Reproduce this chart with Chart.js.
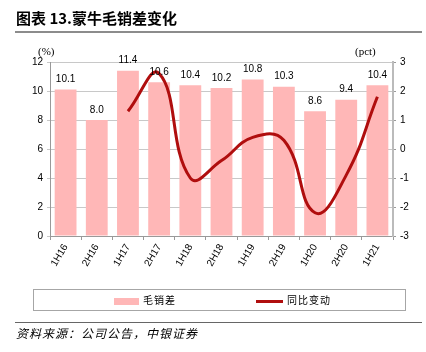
<!DOCTYPE html>
<html>
<head>
<meta charset="utf-8">
<script src="https://cdn.jsdelivr.net/npm/chart.js@4"></script>
<style>
  body { margin: 0; background: #fff; }
  #wrap { position: relative; width: 426px; height: 352px; overflow: hidden; font-family: "Liberation Sans", Arial, sans-serif; }
  #title { position: absolute; left: 16px; top: 7px; font-size: 15px; font-weight: bold; font-family: "Noto Sans CJK SC", sans-serif; color: #000; }
  #rule1 { position: absolute; left: 15px; top: 31px; width: 407px; height: 2px; background: #8c8c8c; }
  #rule2 { position: absolute; left: 15px; top: 322px; width: 407px; height: 1px; background: #666; }
  #source { position: absolute; left: 16px; top: 324px; font-size: 12px; letter-spacing: 1px; font-style: italic; font-family: "Noto Sans CJK SC", sans-serif; color: #000; }
  #legend { position: absolute; left: 33px; top: 289px; width: 373px; height: 22px; border: 1px solid #a6a6a6; box-sizing: border-box; font-size: 10px; font-family: "Noto Sans CJK SC", sans-serif; }
  .lg { position: absolute; top: 3px; line-height: 14px; letter-spacing: 1px; }
  .sw { display: inline-block; vertical-align: middle; margin-right: 4px; }
  .unit { position: absolute; top: 45px; font-size: 11px; font-family: "Liberation Serif", serif; color: #000; }
  canvas { position: absolute; left: 0; top: 0; }
</style>
</head>
<body>
<div id="wrap">
  <canvas id="c" width="426" height="352"></canvas>
  <div id="title">图表 13.蒙牛毛销差变化</div>
  <div id="rule1"></div>
  <div class="unit" style="left:38px">(%)</div>
  <div class="unit" style="left:355px">(pct)</div>
  <div id="legend">
    <div class="lg" style="left:80px"><span class="sw" style="width:25px;height:7px;background:#ffb7b7"></span>毛销差</div>
    <div class="lg" style="left:222px"><span class="sw" style="width:27px;height:3px;background:#b00e0e"></span>同比变动</div>
  </div>
  <div id="rule2"></div>
  <div id="source">资料来源：公司公告，中银证券</div>
</div>
<script>
const labels = ['1H16', '2H16', '1H17', '2H17', '1H18', '2H18', '1H19', '2H19', '1H20', '2H20', '1H21'];
const margin = [10.1, 8.0, 11.4, 10.6, 10.4, 10.2, 10.8, 10.3, 8.6, 9.4, 10.4];
const yoyChange = [null, null, 1.3, 2.6, -1.0, -0.4, 0.4, 0.3, -2.2, -0.9, 1.8];

// labels above bars
const barLabels = {
  id: 'barLabels',
  afterDatasetsDraw(chart) {
    const ctx = chart.ctx;
    const meta = chart.getDatasetMeta(1);
    ctx.save();
    ctx.font = '10px "Liberation Sans", Arial, sans-serif';
    ctx.fillStyle = '#000';
    ctx.textAlign = 'center';
    ctx.textBaseline = 'bottom';
    meta.data.forEach((bar, i) => {
      ctx.fillText(margin[i].toFixed(1), bar.x, bar.y - 5);
    });
    ctx.restore();
  }
};

new Chart(document.getElementById('c'), {
  data: {
    labels: labels,
    datasets: [
      {
        type: 'line',
        data: yoyChange,
        yAxisID: 'y2',
        borderColor: '#b00e0e',
        borderWidth: 3,
        pointRadius: 0,
        tension: 0.45,
        fill: false,
        order: 0
      },
      {
        type: 'bar',
        data: margin,
        yAxisID: 'y',
        backgroundColor: '#ffb7b7',
        barPercentage: 0.7,
        categoryPercentage: 1,
        order: 1
      }
    ]
  },
  options: {
    responsive: false,
    animation: false,
    layout: { padding: { left: 0, right: 0, top: 62, bottom: 76 } },
    plugins: { legend: { display: false }, tooltip: { enabled: false } },
    scales: {
      x: {
        offset: true,
        grid: { display: true, drawOnChartArea: false, offset: true, tickLength: 4, color: '#999' },
        border: { color: '#999' },
        ticks: { minRotation: 60, maxRotation: 60, color: '#000', font: { size: 10, family: '"Liberation Sans", Arial, sans-serif' }, padding: 2 },
        afterFit: s => { s.height = 40; }
      },
      y: {
        position: 'left',
        min: 0, max: 12,
        ticks: { stepSize: 2, color: '#000', font: { size: 10, family: '"Liberation Sans", Arial, sans-serif' }, padding: 4 },
        grid: { color: '#c8c8c8', tickLength: 3 },
        border: { color: '#999' },
        afterFit: s => { s.width = 50; }
      },
      y2: {
        position: 'right',
        min: -3, max: 3,
        ticks: { stepSize: 1, color: '#000', font: { size: 10, family: '"Liberation Sans", Arial, sans-serif' }, padding: 4 },
        grid: { drawOnChartArea: false, tickLength: 3, color: '#999' },
        border: { color: '#bbb', width: 2 },
        afterFit: s => { s.width = 33; }
      }
    }
  },
  plugins: [barLabels]
});
</script>
</body>
</html>
